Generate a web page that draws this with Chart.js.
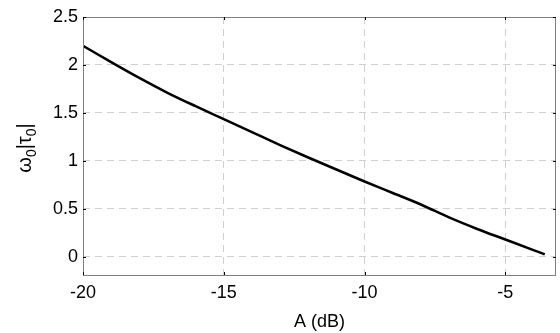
<!DOCTYPE html>
<html>
<head>
<meta charset="utf-8">
<script src="https://cdn.jsdelivr.net/npm/chart.js@4"></script>
<style>
  html, body { margin: 0; padding: 0; background: #fff; }
  #wrap { width: 560px; height: 333px; }
</style>
</head>
<body>
<div id="wrap"><canvas id="chart"></canvas></div>
<script>
// amplitude (dB) vs normalised delay
const amplitudeDb = [-20, -19, -18, -17, -16, -15, -14, -13, -12, -11, -10, -9, -8, -7, -6, -5, -4, -3.6];
const omegaTau = [2.20, 2.03, 1.865, 1.71, 1.57, 1.435, 1.30, 1.165, 1.035, 0.91, 0.785, 0.665, 0.545, 0.41, 0.29, 0.18, 0.07, 0.025];
const xTicks = [-20, -15, -10, -5];
const yTicks = [0, 0.5, 1, 1.5, 2, 2.5];

const points = amplitudeDb.map((a, i) => ({ x: a, y: omegaTau[i] }));

const FONT = 'Liberation Sans, Arial, sans-serif';

// frame, inward tick marks and the y title with subscripts
const extras = {
    id: 'extras',
    afterDraw(chart) {
        const ctx = chart.ctx;
        const { left, right, top, bottom } = chart.chartArea;
        const xs = chart.scales.x, ys = chart.scales.y;
        ctx.save();
        ctx.strokeStyle = '#808080';
        ctx.lineWidth = 1;
        ctx.strokeRect(left + 0.5, top + 0.5, right - left - 1, bottom - top);

        ctx.strokeStyle = '#000';
        ctx.beginPath();
        xTicks.forEach(v => {
            const px = Math.round(xs.getPixelForValue(v)) + 0.5;
            ctx.moveTo(px, bottom); ctx.lineTo(px, bottom - 3);
            ctx.moveTo(px, top); ctx.lineTo(px, top + 3);
        });
        yTicks.forEach(v => {
            const py = Math.round(ys.getPixelForValue(v)) + 0.5;
            ctx.moveTo(left, py); ctx.lineTo(left + 3, py);
            ctx.moveTo(right, py); ctx.lineTo(right - 3, py);
        });
        ctx.stroke();

        // ω0|τ0|
        ctx.translate(31, 148);
        ctx.rotate(-Math.PI / 2);
        ctx.fillStyle = '#000';
        ctx.textBaseline = 'alphabetic';
        const parts = [
            ['\u03c9', 20, 0], ['0', 14, 5], ['|\u03c4', 20, 0], ['0', 14, 5], ['|', 20, 0]
        ];
        let w = 0;
        parts.forEach(p => { ctx.font = p[1] + 'px ' + FONT; w += ctx.measureText(p[0]).width; });
        let x = -w / 2;
        parts.forEach(p => {
            ctx.font = p[1] + 'px ' + FONT;
            ctx.fillText(p[0], x, p[2]);
            x += ctx.measureText(p[0]).width;
        });
        ctx.restore();
    }
};

new Chart(document.getElementById('chart'), {
    type: 'scatter',
    data: {
        datasets: [{
            data: points,
            showLine: true,
            borderColor: '#000',
            borderWidth: 2.5,
            pointRadius: 0,
            cubicInterpolationMode: 'monotone',
            fill: false
        }]
    },
    options: {
        responsive: true,
        maintainAspectRatio: false,
        animation: false,
        layout: { padding: { top: 17, right: 4, left: 0, bottom: 0 } },
        plugins: { legend: { display: false }, tooltip: { enabled: false } },
        scales: {
            x: {
                type: 'linear',
                min: -20,
                max: -3.2,
                afterBuildTicks: s => { s.ticks = xTicks.map(v => ({ value: v })); },
                afterFit: s => { s.height = 58; },
                grid: { color: '#d0d0d0', lineWidth: 1, drawTicks: false },
                border: { display: false, dash: [7, 5] },
                ticks: {
                    color: '#000',
                    font: { family: FONT, size: 18 },
                    padding: 7,
                    maxRotation: 0,
                    callback: v => String(v)
                },
                title: {
                    display: true,
                    text: 'A (dB)',
                    color: '#000',
                    font: { family: FONT, size: 18 },
                    padding: { top: 0, bottom: 0 }
                }
            },
            y: {
                type: 'linear',
                min: -0.19,
                max: 2.5,
                afterBuildTicks: s => { s.ticks = yTicks.map(v => ({ value: v })); },
                afterFit: s => { s.width = 83; },
                grid: { color: '#d0d0d0', lineWidth: 1, drawTicks: false },
                border: { display: false, dash: [7, 5] },
                ticks: {
                    color: '#000',
                    font: { family: FONT, size: 18 },
                    padding: 5,
                    callback: v => String(v)
                }
            }
        }
    },
    plugins: [extras]
});
</script>
</body>
</html>
